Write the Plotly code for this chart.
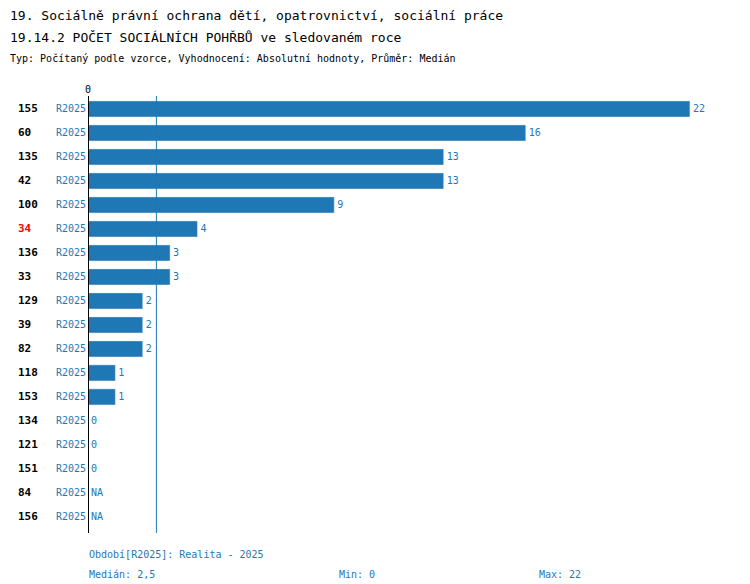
import plotly.graph_objects as go

ids = ["155","60","135","42","100","34","136","33","129","39","82","118","153","134","121","151","84","156"]
period = ["R2025"]*18
values = [22,16,13,13,9,4,3,3,2,2,2,1,1,0,0,0,None,None]
highlight = "34"
median = 2.5
vmin, vmax = 0, 22

BLUE = "#1f77b4"
FONT = "DejaVu Sans Mono"
ys = list(range(len(ids)))
fig = go.Figure()
fig.add_trace(go.Bar(
    x=[v if v is not None else 0 for v in values], y=ys, orientation="h",
    marker_color=BLUE, width=0.67,
    text=[str(v) if v is not None else "NA" for v in values],
    textposition="outside", cliponaxis=False,
    textfont=dict(color=BLUE, size=10, family=FONT), hoverinfo="skip"))
fig.add_shape(type="line", x0=median, x1=median, y0=0, y1=1, yref="paper",
              line=dict(color=BLUE, width=1))
fig.add_shape(type="line", x0=0, x1=0, y0=0, y1=1, yref="paper",
              line=dict(color="black", width=2))

def absann(x, y, t, size=11, color=BLUE):
    return dict(x=(x-80)/650, y=(525-y)/437, xref="paper", yref="paper",
                text=t, showarrow=False, xanchor="left", yanchor="middle",
                font=dict(size=size, family=FONT, color=color))

anns = []
for i, (d, p) in enumerate(zip(ids, period)):
    anns.append(dict(x=(8-80)/650, y=i, xref="paper", yref="y", text=f"<b>{d}</b>", showarrow=False,
                     xanchor="left", font=dict(size=11, family=FONT, color="red" if d == highlight else "black")))
    anns.append(dict(x=(46-80)/650, y=i, xref="paper", yref="y", text=p, showarrow=False,
                     xanchor="left", font=dict(size=10, family=FONT, color=BLUE)))
anns += [
    absann(0, 8, "19. Sociálně právní ochrana dětí, opatrovnictví, sociální práce", 13, "black"),
    absann(0, 30, "19.14.2 POČET SOCIÁLNÍCH POHŘBŮ ve sledovaném roce", 13, "black"),
    absann(0, 50, "Typ: Počítaný podle vzorce, Vyhodnocení: Absolutní hodnoty, Průměr: Medián", 10, "black"),
    absann(79, 546, "Období[R2025]: Realita - 2025", 10),
    absann(79, 566, f"Medián: {str(median).replace('.', ',')}", 10),
    absann(329, 566, f"Min: {vmin}", 10),
    absann(529, 566, f"Max: {vmax}", 10),
]
fig.update_layout(
    width=750, height=584, plot_bgcolor="white", paper_bgcolor="white",
    margin=dict(l=80, r=20, t=88, b=59, autoexpand=False), showlegend=False,
    xaxis=dict(range=[0, 650/27.36], side="top", tickvals=[0], ticktext=["0"], showgrid=False,
               zeroline=False, tickfont=dict(size=10, family=FONT, color="black"), ticks="",
               automargin=False),
    yaxis=dict(range=[17.67, -0.54], showticklabels=False, showgrid=False, zeroline=False,
               automargin=False),
    annotations=anns,
)
fig.write_html("out.html")
